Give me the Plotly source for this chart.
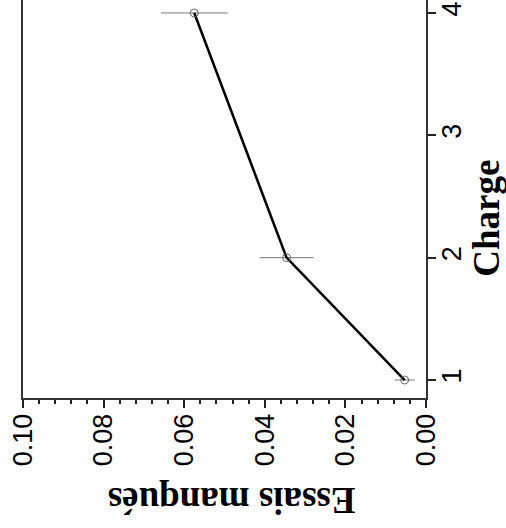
import plotly.graph_objects as go

# Measurements: load level vs. fraction of missed trials
charge = [1, 2, 4]
essais_manques = [0.0053, 0.0346, 0.0575]
erreur = [0.0025, 0.0067, 0.0083]

charge_ticks = [1, 2, 3, 4]
essais_ticks = [0.00, 0.02, 0.04, 0.06, 0.08, 0.10]
essais_ticklabels = ["0.00", "0.02", "0.04", "0.06", "0.08", "0.10"]

fig = go.Figure()

fig.add_trace(go.Scatter(
    x=essais_manques,
    y=charge,
    mode="lines+markers",
    line=dict(color="black", width=2.5),
    marker=dict(symbol="circle-open", size=8, color="#666666", line=dict(width=1)),
    error_x=dict(type="data", array=erreur, visible=True, color="#777777",
                 thickness=1, width=0),
    showlegend=False,
))

tick_font = dict(family="Liberation Sans, Arial, sans-serif", size=27, color="black")
title_font = dict(family="Liberation Serif, Times New Roman, serif", size=37, color="black")

fig.update_layout(
    width=506,
    height=528,
    margin=dict(l=23, r=80, t=0, b=130),
    paper_bgcolor="white",
    plot_bgcolor="white",
    xaxis=dict(
        range=[0.10, 0.0],
        tickvals=essais_ticks,
        ticktext=essais_ticklabels,
        tickangle=-90,
        tickfont=tick_font,
        ticks="outside",
        ticklen=8,
        tickwidth=2,
        tickcolor="#222222",
        ticklabelstandoff=-5,
        minor=dict(dtick=0.004, tick0=0, ticks="outside", ticklen=4,
                   tickwidth=2, tickcolor="#222222"),
        showline=True,
        linecolor="#333333",
        linewidth=2,
        mirror=False,
        showgrid=False,
        zeroline=False,
    ),
    yaxis=dict(
        side="right",
        range=[0.853, 4.106],
        tickvals=charge_ticks,
        tickangle=-90,
        tickfont=tick_font,
        ticks="outside",
        ticklen=8,
        tickwidth=2,
        tickcolor="#222222",
        ticklabelstandoff=-7,
        showline=True,
        linecolor="#333333",
        linewidth=2,
        mirror=True,
        showgrid=False,
        zeroline=False,
    ),
    annotations=[
        dict(text="<b>Essais manqués</b>", xref="paper", yref="paper",
             x=0.518, y=-0.256, xanchor="center", yanchor="middle",
             textangle=180, showarrow=False, font=title_font),
        dict(text="<b>Charge</b>", xref="paper", yref="paper",
             x=1.148, y=0.452, xanchor="center", yanchor="middle",
             textangle=-90, showarrow=False, font=title_font),
    ],
)

fig.write_html("out.html")
